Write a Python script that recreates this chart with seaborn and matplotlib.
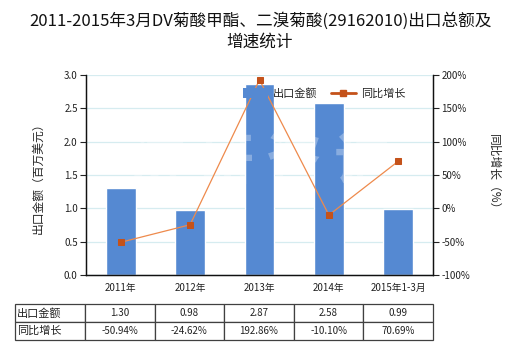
import matplotlib
matplotlib.use("Agg")
import matplotlib.pyplot as plt
import seaborn as sns
import pandas as pd
from matplotlib.ticker import FuncFormatter, MultipleLocator
from matplotlib.patches import Patch
from matplotlib.lines import Line2D

# 数据
categories = ["2011年", "2012年", "2013年", "2014年", "2015年1-3月"]
export_value = [1.30, 0.98, 2.87, 2.58, 0.99]          # 出口金额（百万美元）
growth_rate = [-50.94, -24.62, 192.86, -10.10, 70.69]  # 同比增长（%）
row_labels = ["出口金额", "同比增长"]
title = "2011-2015年3月DV菊酸甲酯、二溴菊酸(29162010)出口总额及\n增速统计"

sns.set_theme(style="white")
plt.rcParams["font.family"] = ["Noto Sans CJK SC", "DejaVu Sans"]
plt.rcParams["axes.unicode_minus"] = False

df = pd.DataFrame({"year": categories, "value": export_value, "growth": growth_rate})

fig = plt.figure(figsize=(5.2, 3.5), dpi=100)
ax = fig.add_axes([86 / 520, 1 - 275 / 350, (433 - 86) / 520, 200 / 350])

bar_color = "#5589d2"
sns.barplot(data=df, x="year", y="value", ax=ax, color=bar_color,
            width=0.43, saturation=1, zorder=2)
ax.set_xlim(-0.5, len(categories) - 0.5)
ax.set_ylim(0, 3.0)
ax.yaxis.set_major_locator(MultipleLocator(0.5))
ax.yaxis.set_major_formatter(FuncFormatter(lambda v, p: f"{v:.1f}"))
ax.grid(axis="y", color="#d6ecf0", linewidth=0.9, zorder=0)
ax.set_axisbelow(True)
ax.set_xlabel("")
ax.set_ylabel("出口金额（百万美元）", fontsize=8.5, labelpad=14)
ax.tick_params(axis="y", labelsize=7, length=4, width=0.8, direction="out",
               left=True, pad=2, colors="#222222")
ax.tick_params(axis="x", labelsize=7, length=0, pad=6, colors="#222222")
for s in ["left", "bottom", "right"]:
    ax.spines[s].set_color("#111111")
    ax.spines[s].set_linewidth(0.9)
ax.spines["top"].set_visible(False)

ax2 = ax.twinx()
sns.lineplot(data=df, x="year", y="growth", ax=ax2, color="#ee8a4c",
             linewidth=0.9, marker="s", markersize=4.5,
             markerfacecolor="#c4521a", markeredgecolor="#c4521a",
             zorder=3, legend=False)
ax2.set_ylim(-100, 200)
ax2.yaxis.set_major_locator(MultipleLocator(50))
ax2.yaxis.set_major_formatter(FuncFormatter(lambda v, p: f"{v:.0f}%"))
ax2.set_ylabel("同比增长（%）", fontsize=8.5, rotation=-90, labelpad=22)
ax2.tick_params(axis="y", labelsize=7, length=4, width=0.8, direction="out",
                right=True, pad=2, colors="#222222")
for s in ["left", "bottom", "right"]:
    ax2.spines[s].set_color("#111111")
    ax2.spines[s].set_linewidth(0.9)
ax2.spines["top"].set_visible(False)
ax2.grid(False)

# 水印
ax.text(0.5, 0.56, "济 研 咨 询", transform=ax.transAxes, ha="center", va="center",
        fontsize=40, fontweight="bold", color="white", alpha=0.3, zorder=4)

# 图例
handles = [Patch(facecolor=bar_color, edgecolor="none"),
           Line2D([0], [0], color="#c4521a", linewidth=2, marker="s",
                  markersize=4, markerfacecolor="#c4521a")]
ax2.legend(handles, ["出口金额", "同比增长"], loc="upper right",
           bbox_to_anchor=(0.95, 0.985), ncol=2, frameon=False, fontsize=8,
           handlelength=2.2, handleheight=0.9, columnspacing=1.2,
           handletextpad=0.5)

fig.text(0.5, 1 - 31 / 350, title, ha="center", va="center", fontsize=12,
         color="#111111", linespacing=1.3)

# 数据表
tax = fig.add_axes([15 / 520, 1 - 340 / 350, (433 - 15) / 520, 36 / 350])
tax.axis("off")
cell_text = [[f"{v:.2f}" for v in export_value],
             [f"{v:.2f}%" for v in growth_rate]]
first_w = 70 / 418
other_w = (1 - first_w) / len(categories)
table = tax.table(cellText=[[row_labels[i]] + cell_text[i] for i in range(2)],
                  colWidths=[first_w] + [other_w] * len(categories),
                  bbox=[0, 0, 1, 1], cellLoc="center")
table.auto_set_font_size(False)
for (r, c), cell in table.get_celld().items():
    cell.set_edgecolor("#404040")
    cell.set_linewidth(0.9)
    cell.get_text().set_fontsize(7)
    cell.get_text().set_color("#222222")
    if c == 0:
        cell.get_text().set_ha("left")
        cell.PAD = 0.03
        cell.get_text().set_fontsize(8)

fig.savefig("out.png", dpi=100)
